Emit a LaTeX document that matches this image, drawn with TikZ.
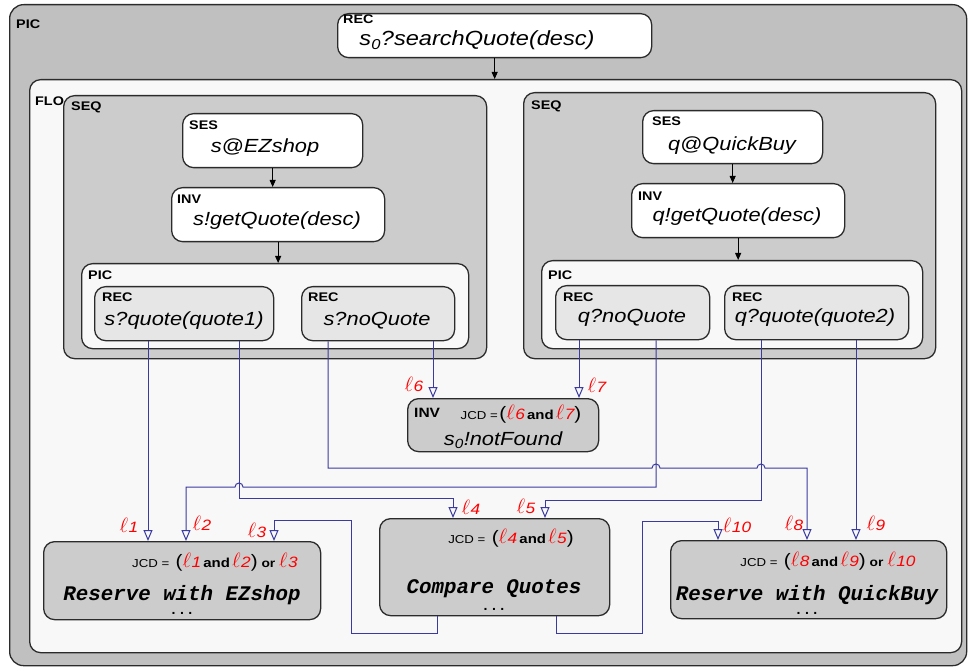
\documentclass[tikz,border=0pt]{standalone}
\usepackage{fontspec}
\setmainfont{Liberation Sans}[FakeStretch=1.15]
\setmonofont{Liberation Mono}
\usetikzlibrary{arrows.meta}
\definecolor{edge}{HTML}{2B2B2B}
\definecolor{picgray}{HTML}{C0C0C0}
\definecolor{seqgray}{HTML}{CCCCCC}
\definecolor{recgray}{HTML}{E6E6E6}
\definecolor{flogray}{HTML}{F8F8F8}
\definecolor{linkblue}{HTML}{3A3AA0}
\definecolor{lred}{HTML}{FF0000}
% red link names and the parts of a join condition
\newcommand{\lab}[1]{{\color{lred}\fontsize{22}{22}\selectfont$\ell$\kern0.5pt\fontsize{15}{15}\selectfont\itshape #1}}
\newcommand{\bigp}[1]{{\fontsize{18}{18}\selectfont #1}}
\newcommand{\cand}{{\fontsize{13}{13}\selectfont\bfseries\,and\,}}
\newcommand{\cor}{{\fontsize{12}{12}\selectfont\bfseries\ or\ }}
\newcommand{\jcd}{{\fontsize{11.5}{12}\selectfont JCD =}}

\begin{document}
\begin{tikzpicture}[x=1pt,y=-1pt, wh/.style 2 args={minimum width=#1, minimum height=#2}]
      \tikzstyle{box} = [rectangle, draw=edge, line width=1.3pt, rounded corners=11pt, anchor=north west, inner sep=0pt]
      \tikzstyle{tag} = [font=\fontsize{12.5}{12.5}\selectfont\bfseries, anchor=north west, inner sep=0pt]
      \tikzstyle{act} = [font=\fontsize{19}{19}\selectfont\itshape, anchor=base, inner sep=0pt]
      \tikzstyle{task} = [font=\fontsize{20.8}{21}\selectfont\ttfamily\bfseries\itshape, anchor=base, inner sep=0pt]
      \tikzstyle{etc} = [font=\fontsize{14}{14}\selectfont\ttfamily\bfseries, anchor=base, inner sep=0pt, text height=3pt, text depth=0pt]
      \tikzstyle{cond} = [anchor=base, inner sep=0pt]
      \tikzstyle{lbl} = [inner sep=0pt]
      \tikzstyle{flow} = [line width=0.9pt, -{Triangle[length=7pt, width=6pt]}]
      \tikzstyle{link} = [draw=linkblue, line width=1pt, -{Triangle[open, length=11pt, width=9pt]}]
      \useasboundingbox (0,0) rectangle (969,668);

      % containers
      \node (pic) [box, fill=picgray, rounded corners=14pt, wh={957}{661}] at (9,4) {};
      \node (rec0) [box, fill=white, wh={314}{44}] at (337,13) {};
      \node (flo) [box, fill=flogray, wh={932}{573}] at (29,79) {};
      \node (seqL) [box, fill=seqgray, wh={423}{263}] at (63,95) {};
      \node (sesL) [box, fill=white, wh={180}{54}] at (182,113) {};
      \node (invL) [box, fill=white, wh={213}{54}] at (171,187) {};
      \node (picL) [box, fill=flogray, wh={387}{85}] at (81,263) {};
      \node (recL1) [box, fill=recgray, wh={179}{54}] at (94,286) {};
      \node (recL2) [box, fill=recgray, wh={153}{54}] at (301,286) {};
      \node (seqR) [box, fill=seqgray, wh={412}{266}] at (523,92) {};
      \node (sesR) [box, fill=white, wh={180}{53}] at (642,110) {};
      \node (invR) [box, fill=white, wh={213}{54}] at (631,183) {};
      \node (picR) [box, fill=flogray, wh={381}{88}] at (541,260) {};
      \node (recR1) [box, fill=recgray, wh={154}{54}] at (555,285) {};
      \node (recR2) [box, fill=recgray, wh={184}{54}] at (724,285) {};
      \node (invNF) [box, fill=seqgray, wh={191}{53}] at (407,398) {};
      \node (resE) [box, fill=seqgray, wh={277}{78}] at (43,541) {};
      \node (cmp) [box, fill=seqgray, wh={230}{97}] at (379,518) {};
      \node (resQ) [box, fill=seqgray, wh={276}{78}] at (670,540) {};

      % tags
      \node (pic-t) [tag] at (16,20) {PIC};
      \node (rec0-t) [tag] at (343,15) {REC};
      \node (flo-t) [tag] at (35,97) {FLO};
      \node (seqL-t) [tag] at (71,102) {SEQ};
      \node (sesL-t) [tag] at (189,121) {SES};
      \node (invL-t) [tag] at (177,195) {INV};
      \node (picL-t) [tag] at (88,271) {PIC};
      \node (recL1-t) [tag] at (102,293) {REC};
      \node (recL2-t) [tag] at (308,293) {REC};
      \node (seqR-t) [tag] at (531,101) {SEQ};
      \node (sesR-t) [tag] at (652,117) {SES};
      \node (invR-t) [tag] at (638,192) {INV};
      \node (picR-t) [tag] at (548,271) {PIC};
      \node (recR1-t) [tag] at (563,293) {REC};
      \node (recR2-t) [tag] at (732,293) {REC};
      \node (invNF-t) [tag, font=\fontsize{13.5}{13.5}\selectfont\bfseries] at (414,408) {INV};

      % activities
      \node (rec0-a) [act, font=\fontsize{20.5}{21}\selectfont\itshape] at (477,46) {s\textsubscript{0}?searchQuote(desc)};
      \node (sesL-a) [act] at (265,153) {s@EZshop};
      \node (invL-a) [act] at (277,226) {s!getQuote(desc)};
      \node (recL1-a) [act] at (184,325) {s?quote(quote1)};
      \node (recL2-a) [act] at (377,325) {s?noQuote};
      \node (sesR-a) [act] at (732,151) {q@QuickBuy};
      \node (invR-a) [act] at (737,222) {q!getQuote(desc)};
      \node (recR1-a) [act] at (632,323) {q?noQuote};
      \node (recR2-a) [act] at (815,323) {q?quote(quote2)};
      \node (invNF-a) [act] at (503,445) {s\textsubscript{0}!notFound};

      % join conditions and tasks
      \node (invNF-c) [cond] at (521,419) {\jcd\,\bigp{(}\lab{6}\cand\lab{7}\bigp{)}};
      \node (resE-c) [cond] at (215,567) {\jcd\ \ \bigp{(}\lab{1}\cand\lab{2}\bigp{)}\cor\lab{3}};
      \node (cmp-c) [cond] at (511,543) {\jcd\ \ \bigp{(}\lab{4}\cand\lab{5}\bigp{)}};
      \node (resQ-c) [cond] at (828,566) {\jcd\ \ \bigp{(}\lab{8}\cand\lab{9}\bigp{)}\cor\lab{10}};
      \node (resE-a) [task] at (182,600) {Reserve with EZshop};
      \node (resE-e) [etc] at (182,614) {...};
      \node (cmp-a) [task] at (494,593) {Compare Quotes};
      \node (cmp-e) [etc] at (494,610) {...};
      \node (resQ-a) [task] at (807,600) {Reserve with QuickBuy};
      \node (resQ-e) [etc] at (807,614) {...};

      % sequence arrows
      \draw [flow] (rec0.south) -- (rec0.south |- flo.north);
      \draw [flow] (sesL.south) -- (sesL.south |- invL.north);
      \draw [flow] (invL.south) -- (invL.south |- picL.north);
      \draw [flow] (sesR.south) -- (sesR.south |- invR.north);
      \draw [flow] (invR.south) -- (invR.south |- picR.north);

      % links
      \draw [link] (148,0 |- recL1.south) -- (148,0 |- resE.north);
      \draw [link] (239,0 |- recL1.south) |- (453,498) -- (453,0 |- cmp.north);
      \draw [link] (433,0 |- recL2.south) -- (433,0 |- invNF.north);
      \draw [link] (328,0 |- recL2.south) |- (652,468) arc[start angle=180, end angle=0, radius=4pt]
            -- (757,468) arc[start angle=180, end angle=0, radius=4pt] -| (807,0 |- resQ.north);
      \draw [link] (579,0 |- recR1.south) -- (579,0 |- invNF.north);
      \draw [link] (656,0 |- recR1.south) |- (243,487) arc[start angle=0, end angle=180, radius=4pt]
            -| (186,0 |- resE.north);
      \draw [link] (761,0 |- recR2.south) |- (545,500) -- (545,0 |- cmp.north);
      \draw [link] (856,0 |- recR2.south) -- (856,0 |- resQ.north);
      \draw [link] (437,0 |- cmp.south) -- (437,633) -| (351,520) -| (274,0 |- resE.north);
      \draw [link] (556,0 |- cmp.south) -- (556,633) -| (642,521) -| (718,0 |- resQ.north);

      % link names
      \node (l1) [lbl] at (129,525) {\lab{1}};
      \node (l2) [lbl] at (202,523) {\lab{2}};
      \node (l3) [lbl] at (257,530) {\lab{3}};
      \node (l4) [lbl] at (471,507) {\lab{4}};
      \node (l5) [lbl] at (526,506) {\lab{5}};
      \node (l6) [lbl] at (414,384) {\lab{6}};
      \node (l7) [lbl] at (597,385) {\lab{7}};
      \node (l8) [lbl] at (794,523) {\lab{8}};
      \node (l9) [lbl] at (876,523) {\lab{9}};
      \node (l10) [lbl] at (737,525) {\lab{10}};
\end{tikzpicture}
\end{document}
